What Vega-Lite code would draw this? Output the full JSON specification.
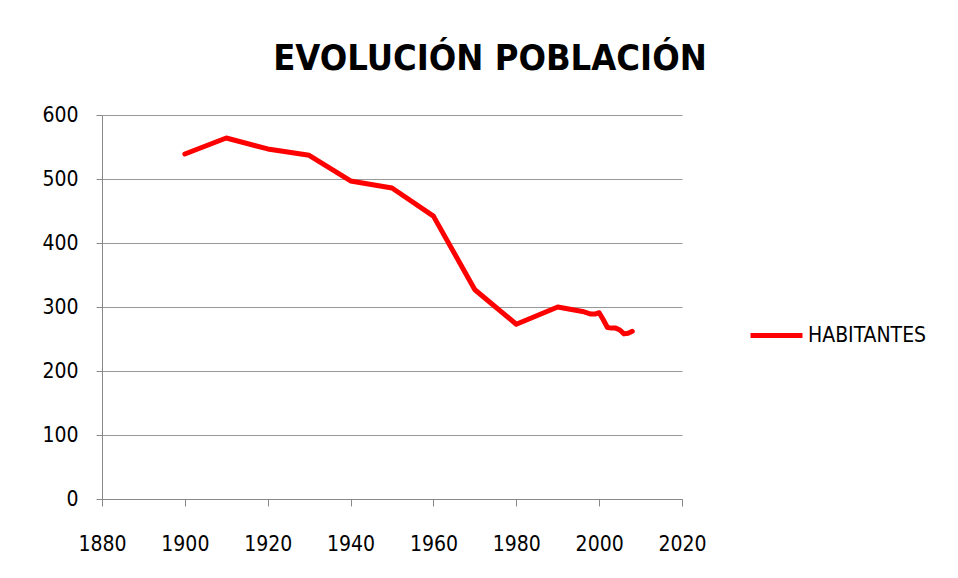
{
  "$schema": "https://vega.github.io/schema/vega-lite/v6.json",
  "autosize": "none",
  "width": 580,
  "height": 384,
  "padding": {"left": 102, "top": 115, "right": 276, "bottom": 79},
  "background": "white",
  "title": {
    "text": "EVOLUCIÓN POBLACIÓN",
    "font": "DejaVu Sans Condensed, Roboto, sans-serif",
    "fontSize": 36,
    "fontWeight": "bold",
    "color": "black",
    "anchor": "middle",
    "dx": 98,
    "offset": 26
  },
  "data": {
    "values": [
      {"year": 1900, "pop": 539, "serie": "HABITANTES"},
      {"year": 1910, "pop": 564, "serie": "HABITANTES"},
      {"year": 1920, "pop": 547, "serie": "HABITANTES"},
      {"year": 1930, "pop": 537, "serie": "HABITANTES"},
      {"year": 1940, "pop": 497, "serie": "HABITANTES"},
      {"year": 1950, "pop": 486, "serie": "HABITANTES"},
      {"year": 1960, "pop": 442, "serie": "HABITANTES"},
      {"year": 1970, "pop": 327, "serie": "HABITANTES"},
      {"year": 1980, "pop": 273, "serie": "HABITANTES"},
      {"year": 1990, "pop": 300, "serie": "HABITANTES"},
      {"year": 1996, "pop": 293, "serie": "HABITANTES"},
      {"year": 1998, "pop": 289, "serie": "HABITANTES"},
      {"year": 1999, "pop": 289, "serie": "HABITANTES"},
      {"year": 2000, "pop": 291, "serie": "HABITANTES"},
      {"year": 2001, "pop": 280, "serie": "HABITANTES"},
      {"year": 2002, "pop": 268, "serie": "HABITANTES"},
      {"year": 2003, "pop": 267, "serie": "HABITANTES"},
      {"year": 2004, "pop": 267, "serie": "HABITANTES"},
      {"year": 2005, "pop": 264, "serie": "HABITANTES"},
      {"year": 2006, "pop": 258, "serie": "HABITANTES"},
      {"year": 2007, "pop": 259, "serie": "HABITANTES"},
      {"year": 2008, "pop": 262, "serie": "HABITANTES"}
    ]
  },
  "mark": {"type": "line", "strokeWidth": 5, "strokeJoin": "round", "strokeCap": "round"},
  "encoding": {
    "x": {
      "field": "year",
      "type": "quantitative",
      "scale": {"domain": [1880, 2020], "nice": false, "zero": false},
      "axis": {
        "title": null,
        "values": [1880, 1900, 1920, 1940, 1960, 1980, 2000, 2020],
        "format": "d",
        "grid": false,
        "labelFlush": false,
        "labelOverlap": false,
        "domainColor": "#888888",
        "tickColor": "#888888",
        "tickSize": 7,
        "labelPadding": 27,
        "labelFont": "DejaVu Sans Condensed, Roboto, sans-serif",
        "labelFontSize": 21,
        "labelColor": "black"
      }
    },
    "y": {
      "field": "pop",
      "type": "quantitative",
      "scale": {"domain": [0, 600], "nice": false},
      "axis": {
        "title": null,
        "values": [0, 100, 200, 300, 400, 500, 600],
        "grid": true,
        "labelFlush": false,
        "gridColor": "#999999",
        "domainColor": "#888888",
        "tickColor": "#888888",
        "tickSize": 6,
        "labelPadding": 18,
        "labelFont": "DejaVu Sans Condensed, Roboto, sans-serif",
        "labelFontSize": 21,
        "labelColor": "black"
      }
    },
    "color": {
      "field": "serie",
      "type": "nominal",
      "scale": {"range": ["#ff0000"]},
      "legend": {
        "title": null,
        "orient": "none",
        "legendX": 646,
        "legendY": 192,
        "symbolType": "stroke",
        "symbolSize": 2700,
        "symbolStrokeWidth": 5,
        "labelFont": "DejaVu Sans Condensed, Roboto, sans-serif",
        "labelFontSize": 21,
        "labelColor": "black",
        "labelOffset": 3
      }
    }
  },
  "config": {"view": {"stroke": null}}
}
